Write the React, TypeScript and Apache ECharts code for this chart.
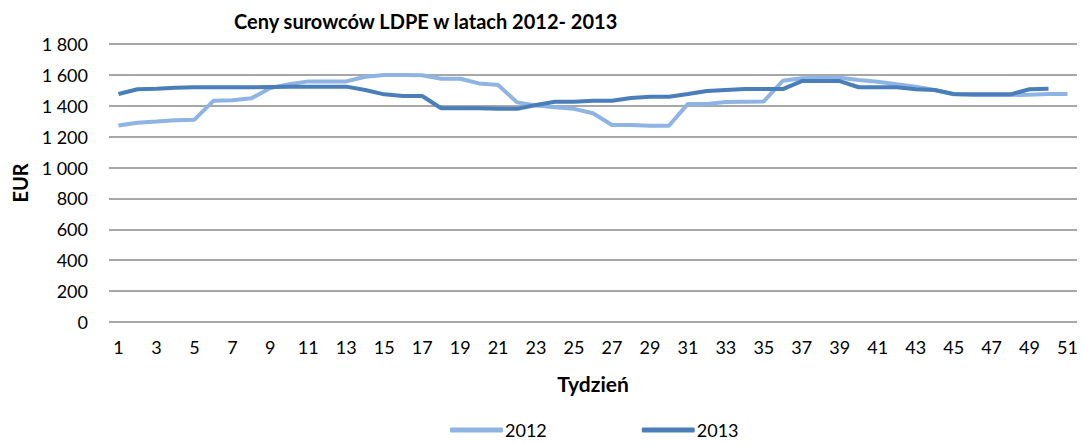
import React, { useEffect, useRef } from "react";
import * as echarts from "echarts";

const weeks: string[] = Array.from({ length: 51 }, (_, i) => String(i + 1));

const prices2012: number[] = [
  1272, 1290, 1298, 1307, 1310, 1432, 1436, 1448, 1515, 1540,
  1558, 1558, 1558, 1588, 1600, 1600, 1598, 1575, 1575, 1545,
  1535, 1422, 1402, 1390, 1380, 1352, 1276, 1276, 1271, 1271,
  1412, 1412, 1424, 1426, 1428, 1562, 1578, 1582, 1582, 1567,
  1556, 1539, 1524, 1502, 1474, 1470, 1470, 1470, 1472, 1476,
  1476,
];

const prices2013: (number | null)[] = [
  1476, 1507, 1511, 1516, 1520, 1520, 1520, 1520, 1522, 1524,
  1524, 1524, 1524, 1502, 1474, 1463, 1463, 1384, 1384, 1384,
  1380, 1380, 1405, 1426, 1426, 1432, 1432, 1450, 1459, 1459,
  1476, 1496, 1502, 1508, 1508, 1508, 1560, 1560, 1560, 1520,
  1520, 1520, 1507, 1502, 1476, 1474, 1474, 1474, 1507, 1511,
  null,
];

const FONT = "Lato, 'Open Sans', sans-serif";

export default function App() {
  const ref = useRef<HTMLDivElement>(null);
  useEffect(() => {
    document.body.style.margin = "0";
    if (!ref.current) return;
    const chart = echarts.init(ref.current, undefined, { renderer: "svg" });
    chart.setOption({
      animation: false,
      backgroundColor: "#ffffff",
      title: {
        text: "Ceny surowców LDPE w latach 2012- 2013",
        left: 229,
        top: 6,
        textStyle: { fontFamily: FONT, fontSize: 20, fontWeight: "bold", color: "#000" },
      },
      legend: {
        bottom: 0,
        left: 445,
        itemWidth: 53,
        itemHeight: 5,
        itemGap: 95,
        icon: "roundRect",
        textStyle: { fontFamily: FONT, fontSize: 18, color: "#000", padding: [0, 0, 0, -3] },
        data: ["2012", "2013"],
      },
      grid: { left: 109, right: 6, top: 44, bottom: 122, containLabel: false },
      xAxis: {
        type: "category",
        data: weeks,
        boundaryGap: true,
        name: "Tydzień",
        nameLocation: "middle",
        nameGap: 51,
        nameTextStyle: { fontFamily: FONT, fontSize: 21, fontWeight: "bold", color: "#000" },
        axisLine: { show: false },
        axisTick: { show: false },
        axisLabel: { interval: 1, fontFamily: FONT, fontSize: 18, color: "#000", margin: 16 },
      },
      yAxis: {
        type: "value",
        min: 0,
        max: 1800,
        interval: 200,
        name: "EUR",
        nameLocation: "middle",
        nameGap: 79,
        nameTextStyle: { fontFamily: FONT, fontSize: 20, fontWeight: "bold", color: "#000" },
        axisLine: { show: false },
        axisTick: { show: false },
        axisLabel: {
          fontFamily: FONT,
          fontSize: 18,
          color: "#000",
          margin: 21,
          formatter: (v: number) => (v >= 1000 ? `${Math.floor(v / 1000)} ${String(v % 1000).padStart(3, "0")}` : String(v)),
        },
        splitLine: { lineStyle: { color: "#8a8a8a", width: 1.5 } },
      },
      series: [
        {
          name: "2012",
          type: "line",
          data: prices2012,
          symbol: "none",
          lineStyle: { width: 4, color: "#8EB4E3" },
          itemStyle: { color: "#8EB4E3" },
        },
        {
          name: "2013",
          type: "line",
          data: prices2013,
          symbol: "none",
          lineStyle: { width: 4, color: "#4A7EBB" },
          itemStyle: { color: "#4A7EBB" },
        },
      ],
    });
    return () => chart.dispose();
  }, []);
  return <div ref={ref} style={{ width: 1083, height: 444 }} />;
}
